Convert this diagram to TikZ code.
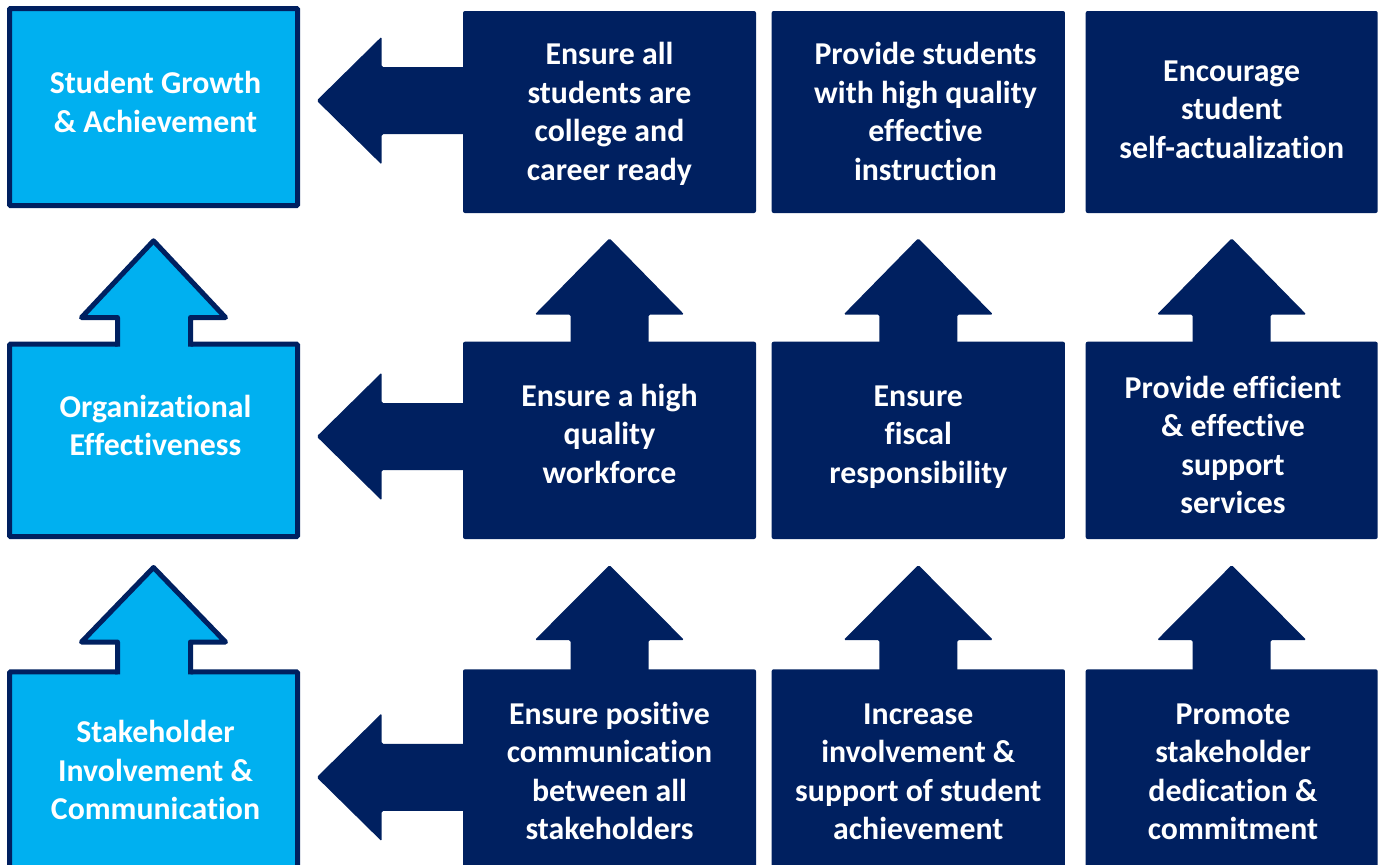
\documentclass[tikz,border=0pt]{standalone}
\usepackage{fontspec}
\setmainfont{Carlito}[RawFeature={-liga}]
\definecolor{navy}{HTML}{002060}
\definecolor{sky}{HTML}{00B0F0}
\begin{document}
\begin{tikzpicture}[x=1pt,y=-1pt,
  navybox/.style={fill=navy, draw=none, rounded corners=2pt, inner sep=0pt, outer sep=0pt},
  skybox/.style={fill=sky, draw=navy, line width=5pt, rounded corners=1pt, inner sep=0pt, outer sep=0pt},
  txt/.style={text=white, font=\fontsize{31.8}{38.5}\selectfont\bfseries, inner sep=0pt, align=center, yshift=-1.5pt},
  navyarrow/.style={fill=navy, rounded corners=1.5pt},
  skyfill/.style={fill=sky},
  skyline/.style={draw=navy, line width=5pt, line join=round, line cap=rect},
]
\useasboundingbox (0,0) rectangle (1382,865);
\clip (0,0) rectangle (1382,865);

% left column boxes
\node[skybox, minimum width=288pt, minimum height=197pt] (L1) at (153.5,107) {};
\node[skybox, minimum width=288pt, minimum height=192.3pt] (L2) at (153.5,440.35) {};
\node[skybox, minimum width=288pt, minimum height=228.2pt] (L3) at (153.5,785.9) {};

% light up arrows merged with boxes 2 and 3
\foreach \bt/\hb/\tp in {344.2/317.5/240.8, 671.8/642/567.5}{
  \fill[skyfill] (117.5,\bt+3.5) -- (117.5,\hb) -- (81.5,\hb) -- (153.5,\tp) -- (225.5,\hb) -- (190.5,\hb) -- (190.5,\bt+3.5) -- cycle;
  \draw[skyline] (117.5,\bt) -- (117.5,\hb) -- (81.5,\hb) -- (153.5,\tp) -- (225.5,\hb) -- (190.5,\hb) -- (190.5,\bt);
}

% dark boxes
\node[navybox, minimum width=293pt, minimum height=202pt] (d11) at (609.5,112) {};
\node[navybox, minimum width=293.3pt, minimum height=202pt] (d12) at (918.3,112) {};
\node[navybox, minimum width=292pt, minimum height=202pt] (d13) at (1231.7,112) {};
\node[navybox, minimum width=293pt, minimum height=197.3pt] (d21) at (609.5,440.35) {};
\node[navybox, minimum width=293.3pt, minimum height=197.3pt] (d22) at (918.3,440.35) {};
\node[navybox, minimum width=292pt, minimum height=197.3pt] (d23) at (1231.7,440.35) {};
\node[navybox, minimum width=293pt, minimum height=230.7pt] (d31) at (609.5,784.65) {};
\node[navybox, minimum width=293.3pt, minimum height=230.7pt] (d32) at (918.3,784.65) {};
\node[navybox, minimum width=292pt, minimum height=230.7pt] (d33) at (1231.7,784.65) {};

% dark up arrows
\foreach \c in {609.5,918.3,1231.7}{
  \foreach \tp/\hb/\bt in {238.3/314.5/341.7, 565/640/669.3}{
    \fill[navyarrow] (\c-39,\bt+4) -- (\c-39,\hb) -- (\c-74.7,\hb) -- (\c,\tp) -- (\c+74.7,\hb) -- (\c+39,\hb) -- (\c+39,\bt+4) -- cycle;
  }
}

% dark left arrows
\foreach \yc in {100.6, 436.5, 777.3}{
  \fill[navyarrow] (470,\yc-33.5) -- (381.7,\yc-33.5) -- (381.7,\yc-64) -- (316.7,\yc) -- (381.7,\yc+64) -- (381.7,\yc+33.5) -- (470,\yc+33.5) -- cycle;
}

% texts
\node[txt] (tL1) at (155.5,104) {\begin{tabular}{@{}c@{}}Student Growth\\\& Achievement\end{tabular}};
\node[txt] (tL2) at (155.5,427.3) {\begin{tabular}{@{}c@{}}Organizational\\Effectiveness\end{tabular}};
\node[txt] (tL3) at (155.5,771.8) {\begin{tabular}{@{}c@{}}Stakeholder\\Involvement \&\\Communication\end{tabular}};

\node[txt] (t11) at (609.5,113.3) {\begin{tabular}{@{}c@{}}Ensure all\\students are\\college and\\career ready\end{tabular}};
\node[txt] (t12) at (925.5,113.3) {\begin{tabular}{@{}c@{}}Provide students\\with high quality\\effective\\instruction\end{tabular}};
\node[txt] (t13) at (1231.7,110.6) {\begin{tabular}{@{}c@{}}Encourage\\student\\self-actualization\end{tabular}};

\node[txt] (t21) at (609.5,435.6) {\begin{tabular}{@{}c@{}}Ensure a high\\quality\\workforce\end{tabular}};
\node[txt] (t22) at (918.3,435.6) {\begin{tabular}{@{}c@{}}Ensure\\fiscal\\responsibility\end{tabular}};
\node[txt] (t23) at (1233,446.8) {\begin{tabular}{@{}c@{}}Provide efficient\\\& effective\\support\\services\end{tabular}};

\node[txt] (t31) at (609.5,773) {\begin{tabular}{@{}c@{}}Ensure positive\\communication\\between all\\stakeholders\end{tabular}};
\node[txt] (t32) at (918.3,773) {\begin{tabular}{@{}c@{}}Increase\\involvement \&\\support of student\\achievement\end{tabular}};
\node[txt] (t33) at (1233,773) {\begin{tabular}{@{}c@{}}Promote\\stakeholder\\dedication \&\\commitment\end{tabular}};
\end{tikzpicture}
\end{document}
